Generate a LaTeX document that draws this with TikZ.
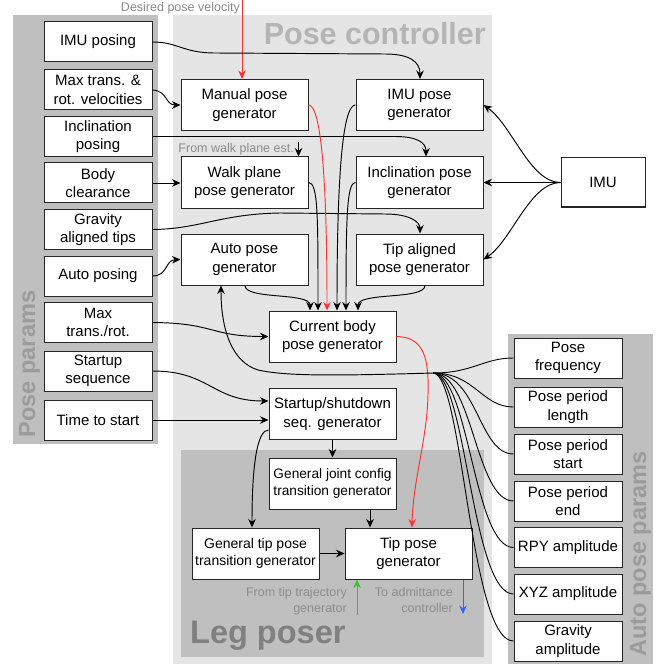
\documentclass[tikz,border=0pt]{standalone}
\usepackage{fontspec}
\setmainfont{Liberation Sans}
\usetikzlibrary{arrows.meta}
\definecolor{panelA}{RGB}{191,191,191}
\definecolor{panelB}{RGB}{229,229,229}
\definecolor{titleA}{RGB}{180,180,180}
\definecolor{titleB}{RGB}{128,128,128}
\definecolor{titleC}{RGB}{155,155,155}
\definecolor{lblc}{RGB}{140,140,140}
\definecolor{redl}{RGB}{255,51,51}
\definecolor{greenl}{RGB}{60,190,60}
\definecolor{bluel}{RGB}{51,102,255}
\begin{document}
\begin{tikzpicture}[x=1pt,y=-1pt,
  box/.style={draw=black!85, line width=1pt, fill=white, align=center, inner sep=1.5pt, font=\fontsize{15}{18.5}\selectfont},
  lbox/.style={box, minimum width=108pt, minimum height=40pt},
  gbox/.style={box, minimum width=127pt, minimum height=51pt},
  conn/.style={line width=0.95pt, -{Stealth[length=8.5pt,width=7.5pt]}},
  fan/.style={line width=0.9pt},
  lbl/.style={text=lblc, inner sep=0pt, font=\fontsize{12.5}{15.5}\selectfont},
  ptitle/.style={inner sep=0pt, font=\fontsize{23.5}{26}\selectfont\bfseries, text=titleC}
]
\useasboundingbox (0,0) rectangle (660,668);
\fill[white] (0,0) rectangle (660,668);
% panels
\fill[panelA] (13,15) rectangle (158,444);
\fill[panelB] (173,15) rectangle (492,664);
\fill[panelA] (181,450) rectangle (484,657);
\fill[panelA] (508,334) rectangle (653,664);
% titles
\node[inner sep=0pt, anchor=base east, text=titleA, font=\fontsize{30.5}{32}\selectfont\bfseries] (tpc) at (486,45) {Pose controller};
\node[inner sep=0pt, anchor=base west, text=titleB, font=\fontsize{32.5}{34}\selectfont\bfseries] (tlp) at (190,643) {Leg poser};
\node[ptitle, rotate=90, anchor=base] (tpp) at (35,364) {Pose params};
\node[ptitle, rotate=90, anchor=base] (tap) at (646,554) {Auto pose params};
% left parameter boxes
\node[lbox] (imup) at (98,42) {IMU posing};
\node[lbox] (maxv) at (98,90) {Max trans. \&\\rot. velocities};
\node[lbox] (incp) at (98,136.5) {Inclination\\posing};
\node[lbox] (bodc) at (98,183) {Body\\clearance};
\node[lbox] (gat) at (98,229.5) {Gravity\\aligned tips};
\node[lbox] (autop) at (98,276) {Auto posing};
\node[lbox] (maxtr) at (98,322.5) {Max\\trans./rot.};
\node[lbox] (stseq) at (98,371) {Startup\\sequence};
\node[lbox] (tts) at (98,420) {Time to start};
% generators
\node[gbox] (mpg) at (244.5,105) {Manual pose\\generator};
\node[gbox] (wpg) at (244.5,182.5) {Walk plane\\pose generator};
\node[gbox] (apg) at (244.5,259.5) {Auto pose\\generator};
\node[gbox] (imupg) at (419.5,105) {IMU pose\\generator};
\node[gbox] (incpg) at (419.5,182.5) {Inclination pose\\generator};
\node[gbox] (tapg) at (419.5,259.5) {Tip aligned\\pose generator};
\node[box, minimum width=84pt, minimum height=49pt] (imu) at (603,182.5) {IMU};
\node[gbox] (cbpg) at (332.5,336.5) {Current body\\pose generator};
\node[gbox] (ssg) at (332.5,414) {Startup/shutdown\\seq. generator};
\node[gbox, inner sep=0.5pt, font=\fontsize{13.7}{17.5}\selectfont] (gjc) at (332.5,483.5) {General joint config\\transition generator};
\node[gbox, inner sep=0.5pt, font=\fontsize{14}{17.5}\selectfont] (gtp) at (255.5,553.5) {General tip pose\\transition generator};
\node[gbox] (tpg) at (408.5,553.5) {Tip pose\\generator};
% auto pose params boxes
\node[lbox] (pf) at (568,358) {Pose\\frequency};
\node[lbox] (ppl) at (568,407) {Pose period\\length};
\node[lbox] (pps) at (568,454) {Pose period\\start};
\node[lbox] (ppe) at (568,501) {Pose period\\end};
\node[lbox] (rpy) at (568,547.5) {RPY amplitude};
\node[lbox] (xyz) at (568,594) {XYZ amplitude};
\node[lbox] (grav) at (568,641) {Gravity\\amplitude};
% external labels
\node[lbl, anchor=base east] (ldpv) at (240,12) {Desired pose velocity};
\node[lbl, anchor=base east] (lwpe) at (294,153) {From walk plane est.};
\node[lbl, anchor=north east, align=right] (lftt) at (347,587.5) {From tip trajectory\\generator};
\node[lbl, anchor=north east, align=right] (ltac) at (453,587.5) {To admittance\\controller};
\coordinate (dpv) at (242,0);
\coordinate (wpe) at (298.5,142);
\coordinate (ftt) at (357,615);
\coordinate (tac) at (463,614);
\coordinate (hub) at (433,373);
% inputs from outside
\draw[conn, redl] (dpv) -- (mpg.north -| 242,0);
\draw[conn] (wpe) -- (wpg.north -| 298.5,0);
\draw[conn, greenl] (ftt) -- (tpg.south -| 357,0);
\draw[conn, bluel] (tpg.south -| 463,0) -- (tac);
% pose params connectors
\draw[conn] (imup.east) .. controls (178,42) and (183,53) .. (215,53) -- (385,54) .. controls (410,54) and (420,62) .. (imupg.north -| 420,0);
\draw[conn] (maxv.east) .. controls (168,91) and (165,105) .. (mpg.west);
\draw[conn] (incp.east) -- (395,136.5) .. controls (416,136.5) and (426,142) .. (incpg.north -| 426,0);
\draw[conn] (bodc.east) -- (bodc.east -| wpg.west);
\draw[conn] (gat.east) .. controls (200,229) and (220,214) .. (280,213) -- (385,214) .. controls (410,214) and (420,222) .. (tapg.north -| 420,0);
\draw[conn] (autop.east) .. controls (168,276) and (165,260) .. (apg.west);
\draw[conn] (maxtr.east) .. controls (215,323) and (210,336.5) .. (cbpg.west);
\draw[conn] (stseq.east) .. controls (210,371) and (212,401) .. (ssg.west |- 0,401);
\draw[conn] (tts.east) -- (tts.east -| ssg.west);
% IMU
\draw[conn] (imu.west) .. controls (530,182.5) and (512,125) .. (imupg.east);
\draw[conn] (imu.west) -- (incpg.east);
\draw[conn] (imu.west) .. controls (530,182.5) and (512,240) .. (tapg.east);
% into current body pose generator
\draw[conn, redl] (mpg.east) .. controls (322,105) and (327,190) .. (cbpg.north -| 327,0);
\draw[conn] (wpg.east) .. controls (318,182.5) and (318,215) .. (cbpg.north -| 318,0);
\draw[conn] (imupg.west) .. controls (344,105) and (337,160) .. (cbpg.north -| 337,0);
\draw[conn] (incpg.west) .. controls (347,182.5) and (346,215) .. (cbpg.north -| 346,0);
\draw[conn] (apg.south -| 245,0) .. controls (245,300) and (310,292) .. (cbpg.north -| 310,0);
\draw[conn] (tapg.south -| 425,0) .. controls (425,300) and (358,292) .. (cbpg.north -| 358,0);
% current body to tip pose
\draw[conn, redl] (cbpg.east) .. controls (425,337) and (429,360) .. (428,395) .. controls (427,440) and (413,480) .. (tpg.north -| 412,0);
% leg poser
\draw[conn] (ssg.south) -- (gjc.north);
\draw[conn] (ssg.west |- 0,430) .. controls (258,430) and (252,460) .. (gtp.north -| 252,0);
\draw[conn] (gjc.south -| 370,0) -- (tpg.north -| 370,0);
\draw[conn] (gtp.east) -- (tpg.west);
% auto pose params fan
\draw[fan] (hub) .. controls +(40,0) and +(-30,0) .. (pf.west);
\draw[fan] (hub) .. controls +(42,0) and +(-32,0) .. (ppl.west);
\draw[fan] (hub) .. controls +(45,0) and +(-35,0) .. (pps.west);
\draw[fan] (hub) .. controls +(40,0) and +(-38,0) .. (ppe.west);
\draw[fan] (hub) .. controls +(36,0) and +(-40,0) .. (rpy.west);
\draw[fan] (hub) .. controls +(33,0) and +(-42,0) .. (xyz.west);
\draw[fan] (hub) .. controls +(30,0) and +(-44,0) .. (grav.west);
\draw[conn] (hub) .. controls (330,376) and (285,376) .. (258,370) .. controls (232,362) and (221,330) .. (apg.south -| 221,0);
\end{tikzpicture}
\end{document}
